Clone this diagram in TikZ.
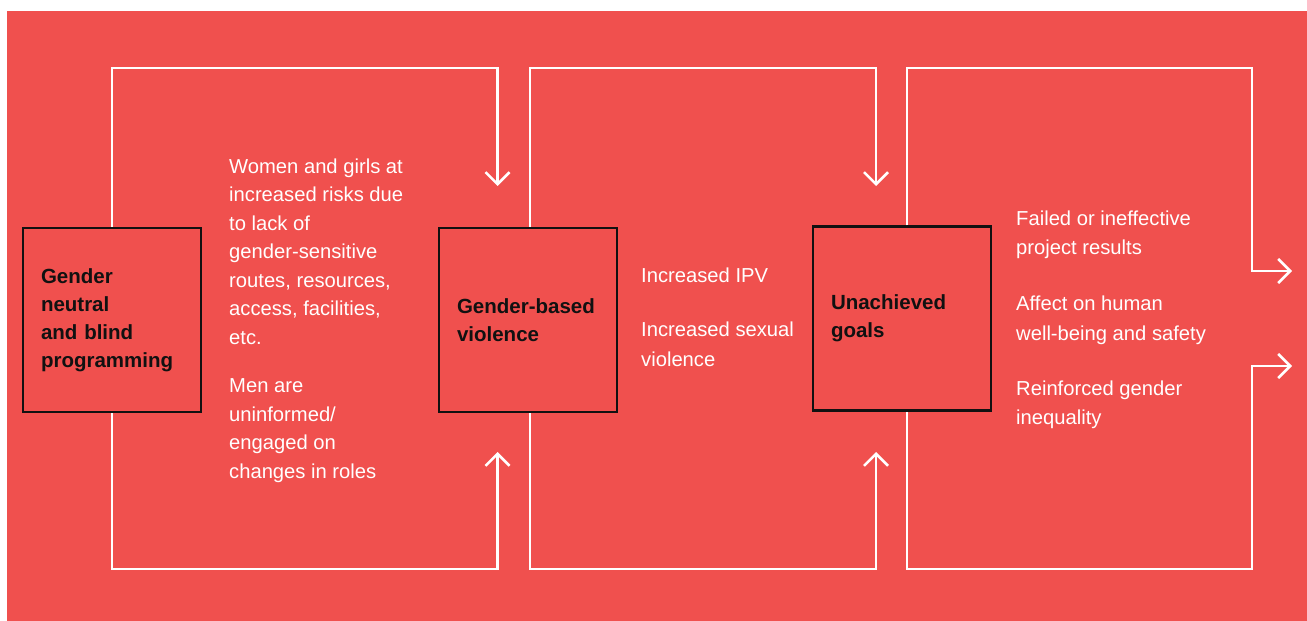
\documentclass[tikz,border=0pt]{standalone}
\usepackage{fontspec}
\setmainfont{Liberation Sans}
\usetikzlibrary{arrows.meta}
\definecolor{bgred}{RGB}{240,80,78}
\definecolor{boxline}{RGB}{17,17,17}
\tikzset{
  wline/.style={draw=white, line width=2.5pt, miter limit=10},
  warrow/.style={wline, -{Straight Barb[length=12pt,width=24pt]}},
  stepbox/.style={draw=boxline, line width=2.5pt, text=boxline,
    minimum height=184pt, text width=142pt, inner xsep=18pt, inner ysep=0pt,
    align=left, font=\bfseries\fontsize{20.5}{28}\selectfont},
  wtext/.style={text=white, anchor=base west, inner sep=0pt, align=left,
    font=\fontsize{20.2}{28.5}\selectfont},
  wtextb/.style={wtext, font=\fontsize{20.2}{29.5}\selectfont}
}
\begin{document}
\begin{tikzpicture}[x=1pt,y=-1pt]
\useasboundingbox (0,0) rectangle (1307,621);
\fill[bgred] (7,11) rectangle (1307,621);

% boxes
\node[stepbox] (b1) at (112,320) {Gender\\neutral\\and blind\\programming};
\node[stepbox] (b2) at (528,320) {Gender-based\\violence};
\node[stepbox] (b3) at (902,318.5) {Unachieved\\goals};

% arrow tips (free ends)
\coordinate (t1) at (497.5,186);
\coordinate (u1) at (497.5,452);
\coordinate (t2) at (876,186);
\coordinate (u2) at (876,452);
\coordinate (o1) at (1292,271);
\coordinate (o2) at (1292,366);

% loops
\draw[warrow] (b1.north) |- (300,68) -| (t1);
\draw[warrow] (b1.south) |- (300,569) -| (u1);
\draw[warrow] ([xshift=2pt]b2.north) |- (700,68) -| (t2);
\draw[warrow] ([xshift=2pt]b2.south) |- (700,569) -| (u2);
\draw[warrow] ([xshift=5pt]b3.north) |- (1252,68) |- (o1);
\draw[warrow] ([xshift=5pt]b3.south) |- (1252,569) |- (o2);

% texts (anchored at the baseline of their last line)
\node[wtext] (p1) at (229,344) {Women and girls at\\increased risks due\\to lack of\\gender-sensitive\\routes, resources,\\access, facilities,\\etc.};
\node[wtext] (p2) at (229,478) {Men are\\uninformed/\\engaged on\\changes in roles};
\node[wtextb] (m1) at (641,282) {Increased IPV};
\node[wtextb] (m2) at (641,366) {Increased sexual\\violence};
\node[wtextb] (r1) at (1016,254.5) {Failed or ineffective\\project results};
\node[wtextb] (r2) at (1016,340) {Affect on human\\well-being and safety};
\node[wtextb] (r3) at (1016,424.5) {Reinforced gender\\inequality};
\end{tikzpicture}
\end{document}
